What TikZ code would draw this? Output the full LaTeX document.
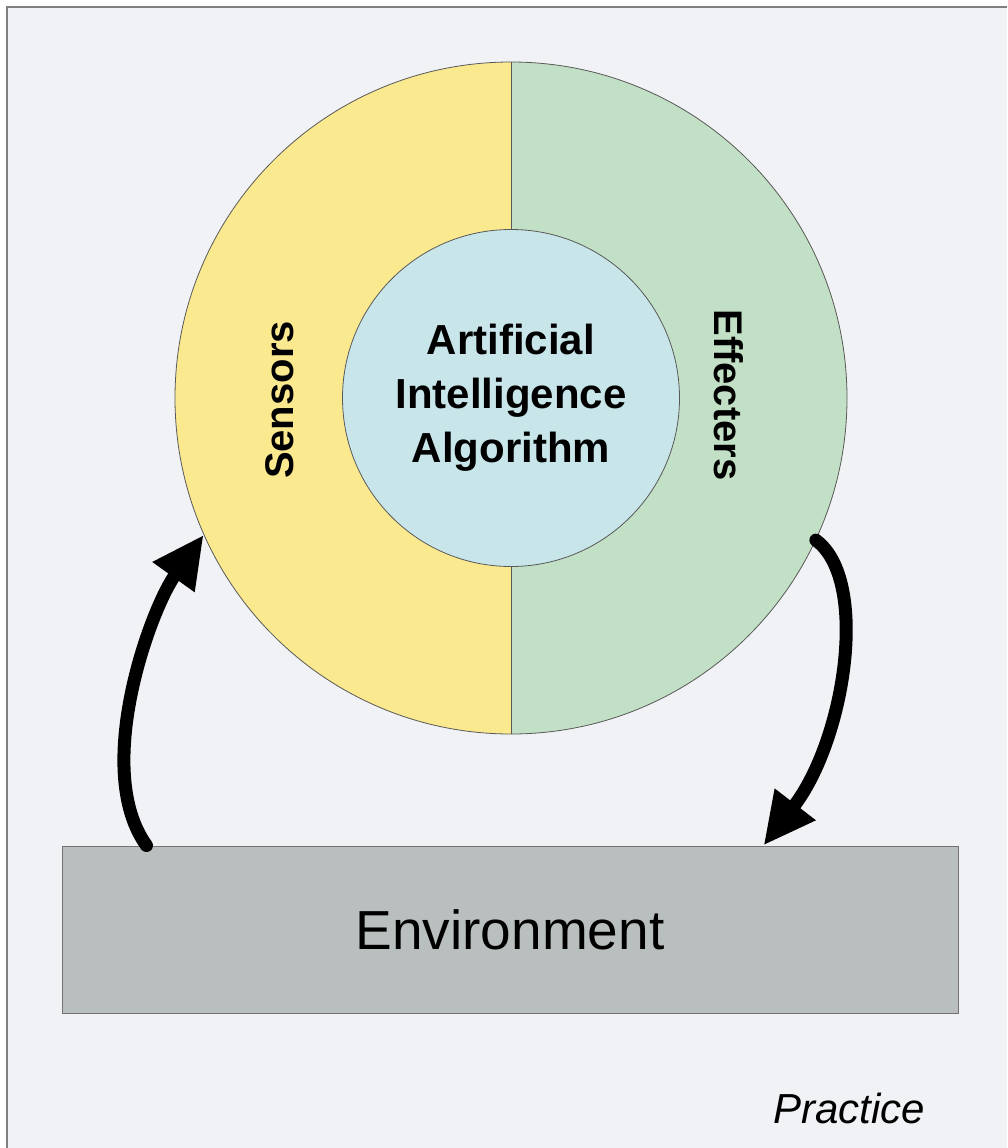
\documentclass[tikz,border=0pt]{standalone}
\usepackage{fontspec}
\setmainfont{Liberation Sans}
\usetikzlibrary{arrows.meta,calc}
\definecolor{bgc}{HTML}{F0F2F5}
\definecolor{sensY}{HTML}{FBE98F}
\definecolor{effG}{HTML}{C2E0C6}
\definecolor{aiB}{HTML}{C8E6EA}
\definecolor{envG}{HTML}{B9BEBE}
\begin{document}
\begin{tikzpicture}[x=1pt,y=-1pt,
  ring/.style={circle,draw=black!65,line width=0.8pt,minimum size=672pt,inner sep=0pt},
  core/.style={circle,draw=black!65,line width=0.8pt,fill=aiB,minimum size=337pt,inner sep=0pt,align=center,font=\fontsize{42}{54}\selectfont\bfseries},
  sidelabel/.style={font=\fontsize{40}{48}\selectfont\bfseries},
  envbox/.style={draw=black!55,line width=1pt,fill=envG,minimum width=896pt,minimum height=167pt,inner sep=0pt,font=\fontsize{55}{66}\selectfont},
  flow/.style={line width=13pt,line cap=round,-{Triangle[length=52pt,width=48pt]}}]
\useasboundingbox (0,0) rectangle (1007,1148);
\fill[white] (0,0) rectangle (1007,1148);
\fill[bgc] (7,7) rectangle (1007,1148);
\draw[black!50,line width=1.2pt] (7,1148) -- (7,7) -- (1007,7);
% halves of the ring
\fill[sensY] (511,398) circle[radius=336];
\begin{scope}
  \clip (511,0) rectangle (1000,800);
  \fill[effG] (511,398) circle[radius=336];
\end{scope}
\node[ring] (ring) at (511,398) {};
\draw[black!65,line width=0.8pt] (ring.north) -- (ring.south);
\node[core] (core) at (511,398) {Artificial\\Intelligence\\Algorithm};
\node[sidelabel,rotate=90] (sens) at (280,400) {Sensors};
\node[sidelabel,rotate=-90] (eff) at (729,395) {Effecters};
% environment
\node[envbox] (env) at (510,929.5) {Environment};
% connectors
\draw[flow] ([xshift=85pt]env.north west) .. controls (92,770) and (150,610) .. (ring.204.4);
\draw[flow] (ring.335.9) .. controls (870,580) and (845,740) .. ([xshift=-195pt]env.north east);
\node[font=\fontsize{42}{50}\selectfont\itshape,anchor=base west] (prac) at (770,1123) {Practice};
\end{tikzpicture}
\end{document}
